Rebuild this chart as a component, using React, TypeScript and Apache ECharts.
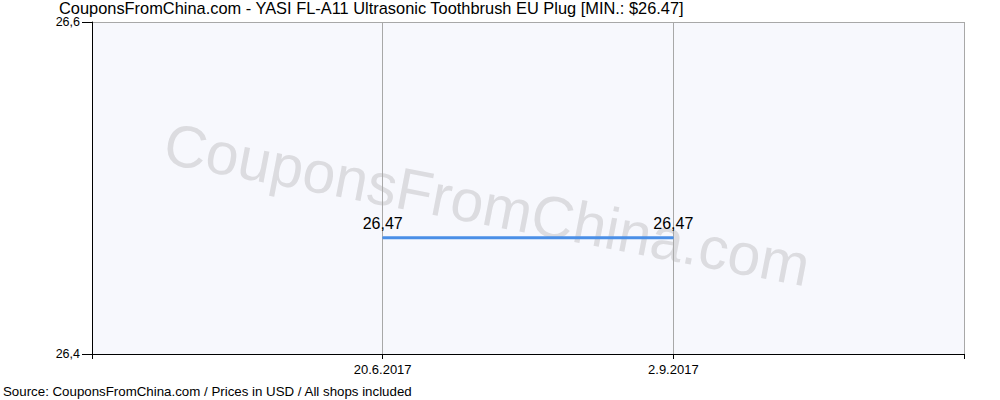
import React, { useEffect, useRef } from "react";
import * as echarts from "echarts";

const categories = ["7.4.2017", "20.6.2017", "2.9.2017", "15.11.2017"];
const shownLabels = ["20.6.2017", "2.9.2017"];
const prices = [null, 26.47, 26.47, null];
const yMin = 26.4;
const yMax = 26.6;
const yStep = 0.2;
const titleText = "CouponsFromChina.com - YASI FL-A11 Ultrasonic Toothbrush EU Plug [MIN.: $26.47]";
const sourceText = "Source: CouponsFromChina.com / Prices in USD / All shops included";
const watermarkText = "CouponsFromChina.com";

const FONT = "Liberation Sans, Arial, sans-serif";
const comma = (v: number, d: number) => v.toFixed(d).replace(".", ",");

export default function App() {
  const ref = useRef<HTMLDivElement>(null);
  useEffect(() => {
    if (!ref.current) return;
    const chart = echarts.init(ref.current, null, { renderer: "svg" });
    chart.setOption({
      animation: false,
      backgroundColor: "#ffffff",
      textStyle: { fontFamily: FONT },
      title: {
        text: titleText,
        left: 59,
        top: 0,
        padding: 0,
        textStyle: { fontFamily: FONT, fontSize: 16.4, lineHeight: 16, fontWeight: "normal", color: "#000" },
      },
      graphic: [
        {
          type: "text",
          x: 487,
          y: 205,
          rotation: -0.19,
          z: 1,
          silent: true,
          style: {
            text: watermarkText,
            fontFamily: FONT,
            fontSize: 59,
            fill: "#dcdce0",
            textAlign: "center",
            textVerticalAlign: "middle",
          },
        },
        {
          type: "text",
          left: 3,
          top: 385,
          z: 5,
          style: {
            text: sourceText,
            fontFamily: FONT,
            fontSize: 13.3,
            fill: "#000",
          },
        },
      ],
      grid: {
        left: 92,
        right: 36,
        top: 22,
        bottom: 46,
        show: true,
        backgroundColor: "#f7f8fd",
        borderWidth: 0,
        z: 0,
      },
      xAxis: {
        type: "category",
        data: categories,
        boundaryGap: false,
        z: 3,
        axisLine: { lineStyle: { color: "#000", width: 1 } },
        axisTick: { show: true, length: 5, lineStyle: { color: "#000" } },
        axisLabel: {
          color: "#000",
          fontSize: 13,
          margin: 9,
          fontFamily: FONT,
          interval: 0,
          formatter: (v: string) => (shownLabels.includes(v) ? v : ""),
        },
        splitLine: { show: true, lineStyle: { color: "#a8a8a8", width: 1 } },
      },
      yAxis: {
        type: "value",
        min: yMin,
        max: yMax,
        interval: yStep,
        z: 3,
        axisLine: { show: true, lineStyle: { color: "#000", width: 1 } },
        axisTick: { show: true, length: 10, lineStyle: { color: "#000" } },
        axisLabel: {
          color: "#000",
          fontSize: 12.5,
          lineHeight: 12,
          margin: 12,
          fontFamily: FONT,
          formatter: (v: number) => comma(v, 1),
        },
        splitLine: { show: true, lineStyle: { color: "#a8a8a8", width: 1 } },
      },
      series: [
        {
          type: "line",
          data: prices,
          z: 4,
          showSymbol: true,
          symbol: "circle",
          symbolSize: 1,
          itemStyle: { color: "#4a8fe7" },
          lineStyle: { color: "#4a8fe7", width: 3 },
          label: {
            show: true,
            position: "top",
            distance: 6,
            color: "#000",
            fontSize: 16,
            fontFamily: FONT,
            formatter: (p: any) => comma(p.value, 2),
          },
        },
      ],
    });
    return () => chart.dispose();
  }, []);
  return (
    <div
      ref={ref}
      style={{ position: "fixed", left: 0, top: 0, width: 1000, height: 400 }}
    />
  );
}
